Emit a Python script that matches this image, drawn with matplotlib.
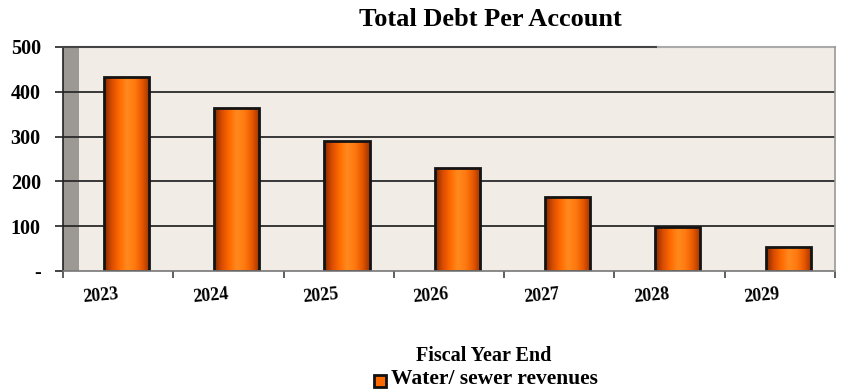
import matplotlib
matplotlib.use("Agg")
import matplotlib.pyplot as plt
import numpy as np
from matplotlib.colors import LinearSegmentedColormap
from matplotlib.patches import Rectangle

years = ["2023", "2024", "2025", "2026", "2027", "2028", "2029"]
debt_per_account = [433, 364, 290, 230, 165, 98, 53]
y_ticks = [0, 100, 200, 300, 400, 500]
y_tick_labels = ["-", "100", "200", "300", "400", "500"]

serif = ["Liberation Serif", "DejaVu Serif"]

fig = plt.figure(figsize=(8.52, 3.92), dpi=100)
ax = fig.add_axes([63 / 852, 1 - 271 / 392, (835 - 63) / 852, (271 - 47) / 392])

ax.set_xlim(-0.5, 6.5)
ax.set_ylim(0, 500)
ax.set_facecolor("#f1ede6")

# gray side wall on the left
ax.add_patch(Rectangle((0, 0), 16 / 772, 1, transform=ax.transAxes,
                       facecolor="#9c9893", edgecolor="none", zorder=0.5))

# horizontal grid lines
for yv in y_ticks[1:-1]:
    ax.axhline(yv, color="#2a2a2a", lw=1.3, zorder=1)

# bars with a horizontal orange gradient
bar_cmap = LinearSegmentedColormap.from_list(
    "bar_shade",
    ["#7f2800", "#d94c00", "#ff6a00", "#ff8a1e", "#ff7a10", "#e85800", "#983200"])
grad = np.linspace(0, 1, 256).reshape(1, -1)
offset = 0.075
width = 0.41
for i, v in enumerate(debt_per_account):
    x0 = i + offset - width / 2
    im = ax.imshow(grad, cmap=bar_cmap, aspect="auto",
                   extent=(x0, x0 + width, 0, v), zorder=2)
    clip = Rectangle((x0, 0), width, v, facecolor="none", edgecolor="none")
    ax.add_patch(clip)
    im.set_clip_path(clip)
    ax.add_patch(Rectangle((x0, 0), width, v, facecolor="none",
                           edgecolor="#141414", lw=2.0, zorder=3))

ax.set_xlim(-0.5, 6.5)
ax.set_ylim(0, 500)

# spines
for s in ["top", "right", "bottom"]:
    ax.spines[s].set_visible(False)
ax.spines["left"].set_color("#222222")
ax.spines["left"].set_linewidth(1.2)
ax.plot([0, 1], [0, 0], transform=ax.transAxes, color="#777777", lw=1.2, clip_on=False, zorder=4)
ax.plot([0, (658 - 63) / 772], [1, 1], transform=ax.transAxes, color="#444444", lw=1.5, clip_on=False, zorder=4)
ax.plot([(658 - 63) / 772, 1], [1, 1], transform=ax.transAxes, color="#aaaaaa", lw=1.5, clip_on=False, zorder=4)
ax.plot([1, 1], [0, 1], transform=ax.transAxes, color="#999999", lw=1.2, clip_on=False, zorder=4)

# y axis
ax.set_yticks(y_ticks)
ax.set_yticklabels(y_tick_labels, fontfamily=serif, fontweight="bold", fontsize=14.5)
ax.tick_params(axis="y", length=6, width=1.2, color="#222222", pad=10)

# x axis: ticks at category boundaries, labels slightly rotated
ax.set_xticks(np.arange(-0.5, 7, 1))
ax.set_xticklabels([])
ax.tick_params(axis="x", length=5, width=1.2, color="#444444")
for i, yr in enumerate(years):
    ax.text(i, -52, yr, rotation=5, ha="right", va="center", rotation_mode="anchor",
            fontfamily=serif, fontweight="bold", fontsize=13, transform=ax.transData,
            clip_on=False)

fig.text(490 / 852, 1 - 19 / 392, "Total Debt Per Account", ha="center", va="center",
         fontfamily=serif, fontweight="bold", fontsize=19)
fig.text(484 / 852, 1 - 356 / 392, "Fiscal Year End", ha="center", va="center",
         fontfamily=serif, fontweight="bold", fontsize=14.5)

# legend
fig.patches.append(Rectangle((374 / 852, 1 - 387 / 392), 12 / 852, 12 / 392,
                             transform=fig.transFigure, facecolor="#ff6a00",
                             edgecolor="#111111", lw=2))
fig.text(391 / 852, 1 - 379 / 392, "Water/ sewer revenues", ha="left", va="center",
         fontfamily=serif, fontweight="bold", fontsize=15.5)

fig.savefig("out.png", dpi=100)
